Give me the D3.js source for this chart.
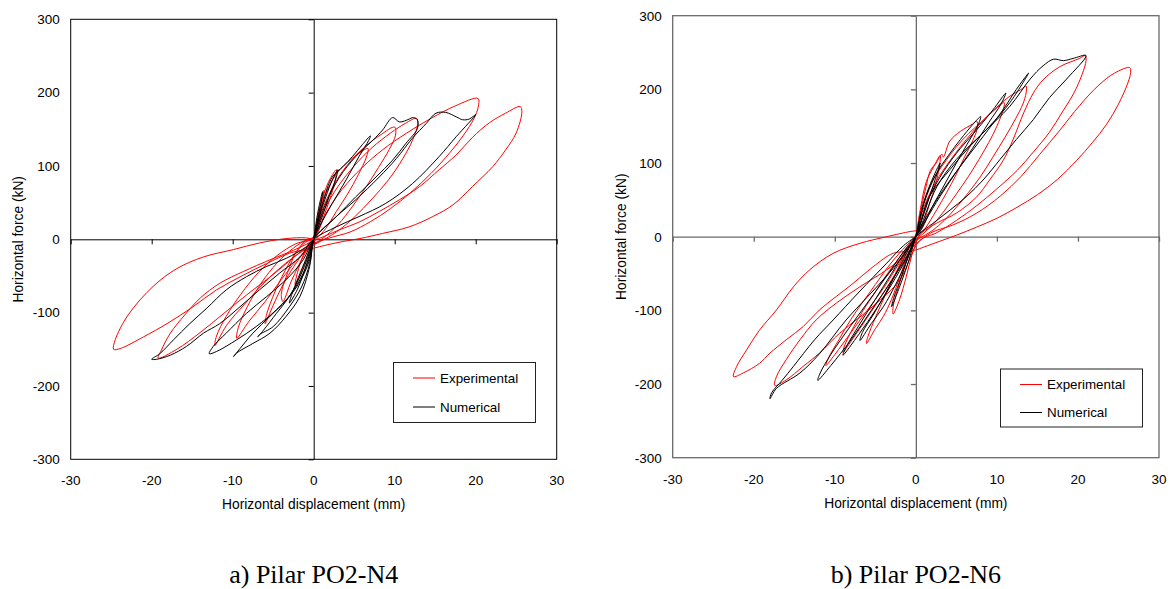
<!DOCTYPE html>
<html><head><meta charset="utf-8">
<script src="https://cdn.jsdelivr.net/npm/d3@7"></script>
<style>body{margin:0;background:#fff}svg{display:block}text{font-family:"Liberation Sans",Arial,sans-serif;fill:#000}</style>
</head><body><svg id="c" width="1172" height="589"></svg>
<script>
const xTicks=[-30,-20,-10,0,10,20,30];
const yTicks=[-300,-200,-100,0,100,200,300];
const seriesNames=["Experimental","Numerical"];
const seriesColors=["#ff0000","#000000"];
const xTitle="Horizontal displacement (mm)";
const yTitle="Horizontal force (kN)";
const captions=["a) Pilar PO2-N4","b) Pilar PO2-N6"];

// [displacement mm, force kN]
const n4Experimental=[
[0,0],[0.4,25],[0.9,50],[1.3,67],[1.1,50],[0.6,25],[0.1,3],[-0.5,-15],[-1.2,-35],[-1.8,-52],[-2.3,-62],[-2.0,-45],[-1.3,-22],[-0.6,-5],[0,2],
[0.5,28],[1.2,60],[2.0,82],[2.8,95],[2.6,78],[2.0,55],[1.2,30],[0.4,8],[-0.5,-8],[-1.6,-30],[-2.8,-58],[-3.8,-85],[-4.0,-75],[-3.2,-45],[-2.2,-18],[-1.0,-2],[0,3],
[0.8,40],[1.8,70],[3.0,92],[4.5,108],[5.8,119],[6.7,124],[6.5,112],[5.5,88],[4.2,62],[2.8,38],[1.5,15],[0.3,0],[-1.0,-15],[-2.5,-38],[-3.8,-62],[-5.0,-90],[-6.0,-115],[-5.8,-102],[-4.8,-72],[-3.5,-42],[-2.2,-18],[-1.0,-4],[0,2],
[1,38],[2.2,68],[3.5,92],[5,112],[6.5,128],[8.2,142],[10,153],[10.1,142],[9.3,122],[8,98],[6.5,72],[4.8,45],[3,20],[1.2,2],[-0.5,-12],[-2.2,-30],[-4,-55],[-6,-85],[-8,-112],[-9.5,-135],[-9.3,-120],[-8.2,-92],[-6.5,-60],[-4.5,-32],[-2.5,-12],[-0.8,0],[0,3],
[1.2,38],[3,72],[5,100],[7.2,125],[9.5,145],[11.3,158],[12.7,165],[12.8,155],[12.2,135],[11,110],[9.3,82],[7.2,55],[5,30],[2.8,10],[0.8,-3],[-1.2,-15],[-3.5,-33],[-6,-58],[-8.5,-88],[-10.8,-118],[-12.2,-145],[-12,-132],[-10.8,-105],[-9,-75],[-6.8,-45],[-4.5,-22],[-2.2,-6],[0,2],
[1.5,35],[3.5,68],[6,98],[8.5,122],[11.5,145],[14.5,165],[17.5,182],[20.3,192],[20.3,180],[19.8,165],[18.5,142],[16.8,118],[14.5,90],[12,64],[9.5,42],[7,24],[4.5,10],[2,2],[-0.5,-8],[-2.5,-25],[-5,-48],[-8.3,-76],[-11.2,-102],[-14,-127],[-16.9,-150],[-19.2,-162],[-18.8,-151],[-17.7,-128],[-15.9,-103],[-14,-80],[-11.6,-60],[-8.7,-44],[-5.4,-28],[-2.5,-15],[0,-2],
[1.5,5],[3.2,13],[5.7,24],[8.1,38],[10.6,54],[13.1,72],[15.5,95],[17.6,115],[19.6,139],[21.7,159],[23.7,172],[25.5,181],[25.7,174],[25,145],[23.7,122],[22.1,99],[19.6,72],[17.2,47],[14.7,31],[11.8,17],[8.5,8],[5.7,1],[3.6,-3],[1.5,-8],[0,-12],[-1,-14],[-3,-19],[-5.8,-33],[-8.7,-49],[-12,-69],[-14.9,-92],[-18.1,-115],[-21,-133],[-23.9,-149],[-24.7,-150],[-24.5,-137],[-22.9,-103],[-19.8,-64],[-16.9,-40],[-13.6,-24],[-9.9,-14],[-6.7,-5],[-3.4,1],[-1,2],[0,0]
];
const n4Numerical=[
[0,0],[0.4,30],[0.8,52],[1.1,65],[0.9,50],[0.5,28],[0.1,5],[-0.5,-20],[-1.2,-45],[-2.0,-68],[-3.0,-87],[-2.7,-75],[-1.9,-52],[-1.0,-28],[-0.3,-8],[0,0],
[0.7,31],[1.5,58],[2.3,81],[3,95],[2.8,85],[1.9,58],[0.9,26],[0,0],[-0.5,-33],[-1.5,-65],[-3,-92],[-5,-119],[-6.7,-130],[-6.9,-133],[-6.2,-124],[-4.6,-101],[-3,-78],[-1.7,-51],[-0.7,-24],[0,0],
[1.1,49],[2.3,85],[3.6,99],[4.8,113],[6,129],[7,141],[6.8,135],[5.6,113],[4,81],[2.3,49],[0.7,17],[0,0],[-0.5,-37],[-1.7,-78],[-3.4,-105],[-5.4,-128],[-7.5,-142],[-9.5,-155],[-9.9,-160],[-9.1,-149],[-7.5,-128],[-5.4,-105],[-3.4,-83],[-1.7,-55],[-0.5,-24],[0,0],
[1.5,49],[3.2,85],[5.2,113],[7.3,135],[8.5,149],[9.75,166],[10.6,160],[11.8,164],[12.2,166],[12.8,163],[12.8,151],[11.4,131],[9.75,108],[7.7,85],[5.2,58],[2.8,31],[0,0],[-0.5,-28],[-2.1,-65],[-4.6,-96],[-7.1,-119],[-9.5,-137],[-12,-153],[-12.9,-156],[-12.4,-146],[-10.8,-128],[-8.3,-101],[-5.8,-78],[-3.4,-55],[-1.3,-28],[0,0],
[2.8,31],[5.2,54],[8.1,85],[10.2,110],[12.2,138],[13.9,158],[15.1,172],[16.3,173],[17.6,167],[18.4,163],[19.2,164],[20,170],[17.6,140],[15.5,113],[12.2,76],[8.9,49],[5.6,31],[2.8,17],[0,0],[-1.7,-24],[-4.2,-46],[-6.7,-69],[-9.1,-92],[-11.6,-115],[-13.6,-128],[-15.7,-146],[-17.7,-158],[-19.4,-163.6],[-20,-163.6],[-19,-156],[-17.3,-137],[-15.3,-115],[-13.2,-94],[-10.8,-69],[-8.3,-51],[-5.8,-37],[-3.4,-26],[-0.9,-10],[0,0]
];
const n6Experimental=[
[0,0],[0.6,40],[1.3,75],[2.2,95],[3,110],[2.9,95],[2.4,70],[1.7,45],[1,20],[0.3,0],[-0.5,-25],[-1.2,-55],[-2,-85],[-2.8,-105],[-2.8,-95],[-2.2,-70],[-1.5,-45],[-0.8,-20],[0,0],
[0.5,30],[1.2,65],[1.8,90],[2.5,100],[3.2,112],[3.4,108],[4.2,130],[5.5,143],[7,153],[7.5,157],[7.6,148],[7,130],[6,108],[5,85],[3.8,60],[2.5,35],[1.2,12],[0,-5],[-1,-25],[-2,-55],[-3,-85],[-4,-108],[-5,-125],[-6.1,-145],[-5.9,-135],[-5,-110],[-3.8,-80],[-2.5,-50],[-1.2,-20],[0,0],
[0.8,40],[2,75],[3.5,100],[5,122],[6.5,140],[8,155],[9.5,170],[10.9,182],[10.7,170],[10,150],[9,128],[7.8,105],[6.5,82],[5,58],[3.5,35],[2,15],[0.5,0],[-0.8,-20],[-2.5,-50],[-4.5,-85],[-6.5,-118],[-8,-142],[-9,-157],[-8.8,-148],[-7.8,-125],[-6.5,-100],[-5,-75],[-3.5,-50],[-2,-28],[-0.5,-5],[0,3],
[1,40],[2.5,75],[4,100],[5.5,122],[7,142],[8.5,160],[10,176],[11.5,190],[13,200],[13.6,204.5],[13.6,195],[13.2,180],[12.3,160],[11,135],[9.5,108],[8,82],[6.5,60],[5,40],[3.5,22],[2,8],[0.5,-2],[-0.5,-10],[-2,-35],[-4,-70],[-6,-100],[-8,-130],[-10,-160],[-11.1,-175],[-10.8,-165],[-9.5,-140],[-8,-112],[-6.5,-88],[-5,-65],[-3.5,-42],[-2,-22],[-0.5,-5],[0,0],
[2.5,18],[5,32],[7.5,54],[9.1,77],[10.8,104],[12,132],[13.3,168],[14.5,195],[15.7,213],[17.8,231],[20.2,242],[20.9,246],[21,239],[20.5,220],[19.5,195],[18,168],[16.5,142],[14.5,115],[12.5,90],[10,65],[7.5,42],[5,22],[2.5,5],[0.5,-5],[-2,-59],[-4.4,-86],[-6.9,-109],[-9.4,-131],[-11.9,-158],[-13.9,-176],[-16,-194.5],[-17.4,-202],[-17.2,-190],[-16,-167],[-14.3,-140],[-12.3,-113],[-9.8,-90],[-6.9,-68],[-3.6,-45],[-1.1,-23],[0,-10],
[2,6],[4.6,16],[7.5,32],[10.4,55],[13,82],[15.3,112],[17.8,145],[20.2,178],[22.5,205],[24.5,222],[26.4,229.5],[26.5,223],[26.2,210],[25,180],[23.5,152],[21.8,128],[19.8,103],[17.5,78],[15,57],[12.5,40],[10,25],[7.5,13],[5,2],[3,-6],[1,-14],[0,-18],[-1,-20],[-2.8,-22.5],[-5.3,-41],[-7.7,-63],[-9.8,-81],[-11.9,-99.5],[-13.9,-122],[-16,-140],[-18,-158],[-19.3,-172],[-21.3,-185],[-22.5,-190],[-22.1,-176],[-20.9,-154],[-19.3,-127],[-17.2,-99.5],[-15.1,-68],[-13.1,-45],[-10.2,-22.6],[-6.9,-9],[-3.6,0],[-0.7,7],[0,8]
];
const n6Numerical=[
[0,0],[0.8,40],[1.8,72],[3,100],[2.6,85],[1.8,58],[0.9,28],[0,0],[-0.8,-30],[-1.8,-62],[-3,-95],[-2.7,-82],[-1.8,-55],[-0.8,-22],[0,0],
[1,45],[2.5,85],[4,110],[5.5,132],[7,152],[8,163],[7.6,150],[6.3,125],[5,100],[3.5,70],[2,40],[0.8,12],[0,0],[-1,-30],[-2.5,-65],[-4,-95],[-5.5,-118],[-6.9,-141],[-6.6,-130],[-5.2,-105],[-3.8,-78],[-2.2,-45],[-0.8,-15],[0,0],
[1.5,50],[3.5,90],[5.5,120],[7.5,145],[9.5,172],[11.1,195],[10.5,180],[9,155],[7,120],[5,88],[3,55],[1.2,22],[0,0],[-1.2,-30],[-3,-65],[-5,-100],[-7,-132],[-9,-161],[-8.6,-150],[-7,-120],[-5,-85],[-3,-50],[-1.2,-18],[0,0],
[1.7,55],[4.2,91],[6.7,123],[9.1,150],[11.6,182],[13.9,222],[12.4,200],[10.8,173],[8.3,136],[5.8,100],[3.4,64],[1.3,27],[0,0],[-1,-25],[-3,-60],[-5.5,-100],[-8,-140],[-10.5,-175],[-12.1,-195],[-11.8,-185],[-10.5,-160],[-8.5,-128],[-6,-90],[-3.5,-52],[-1.5,-20],[0,0],
[2.6,68],[5,105],[8.3,141],[11.6,177],[14.1,214],[15.7,232],[17,241],[18.2,239],[19.4,242],[21,246],[18.6,214],[16.5,189],[14.5,159],[12.4,132],[10.4,105],[8.3,77],[6.3,55],[4.2,36],[2.1,18],[0,0],[-1.5,-25],[-3.5,-52],[-6,-82],[-8.6,-113],[-11.9,-159],[-14.3,-185],[-17.2,-206],[-18,-220],[-17.8,-212],[-16.5,-195],[-15.1,-176],[-12.5,-140],[-10.2,-113],[-7,-75],[-3.6,-36],[-1.5,-12],[0,0]
];

const panels=[
 {x0:70.7,x1:556.7,y0:19.3,y1:459.3,frame:"#000",fw:1,series:[n4Experimental,n4Numerical],caption:captions[0],
  xLabY:485,xTitY:509,yTitX:23.4,leg:{x:393.5,y:362.5,w:142,h:60,r1:378,r2:407,l1:413,l2:435,tx:440}},
 {x0:672.7,x1:1159,y0:15.7,y1:457.7,frame:"#6a6a6a",fw:1.3,series:[n6Experimental,n6Numerical],caption:captions[1],
  xLabY:484,xTitY:508,yTitX:625.5,leg:{x:1000.5,y:369,w:142,h:58,r1:384.5,r2:412.5,l1:1020,l2:1042,tx:1047}}
];

const svg=d3.select("#c");
svg.append("rect").attr("width",1172).attr("height",589).attr("fill","#fff");

panels.forEach(p=>{
  const x=d3.scaleLinear().domain([-30,30]).range([p.x0,p.x1]);
  const y=d3.scaleLinear().domain([-300,300]).range([p.y1,p.y0]);
  const g=svg.append("g");
  g.append("rect").attr("x",p.x0).attr("y",p.y0).attr("width",p.x1-p.x0).attr("height",p.y1-p.y0)
    .attr("fill","none").attr("stroke",p.frame).attr("stroke-width",p.fw);
  const ax=g.append("g").attr("transform",`translate(0,${y(0)})`)
    .call(d3.axisBottom(x).tickValues(xTicks).tickSize(5).tickSizeOuter(0).tickFormat(""));
  const ay=g.append("g").attr("transform",`translate(${x(0)},0)`)
    .call(d3.axisLeft(y).tickValues(yTicks).tickSize(5).tickSizeOuter(0).tickFormat(""));
  [ax,ay].forEach(a=>{a.selectAll("path,line").attr("stroke",p.frame).attr("stroke-width",p.fw);});

  // tick labels
  g.selectAll(".xl").data(xTicks).join("text").attr("x",d=>x(d)).attr("y",p.xLabY)
    .attr("text-anchor","middle").style("font-size","13.5px").text(d=>d);
  g.selectAll(".yl").data(yTicks).join("text").attr("x",p.x0-11).attr("y",d=>y(d)+4.8)
    .attr("text-anchor","end").style("font-size","13.5px").text(d=>d);
  // titles
  g.append("text").attr("x",x(0)).attr("y",p.xTitY).attr("text-anchor","middle").style("font-size","13.8px").text(xTitle);
  g.append("text").attr("transform",`translate(${p.yTitX},${y(0)}) rotate(-90)`).attr("text-anchor","middle").style("font-size","13.8px").text(yTitle);
  // caption
  g.append("text").attr("x",x(0)).attr("y",583).attr("text-anchor","middle")
    .style("font-family","'Liberation Serif','Times New Roman',serif").style("font-size","26px").text(p.caption);

  // data
  const line=d3.line().x(d=>x(d[0])).y(d=>y(d[1])).curve(d3.curveCatmullRom.alpha(0.5));
  p.series.forEach((s,i)=>{
    g.append("path").datum(s).attr("d",line).attr("fill","none").attr("stroke",seriesColors[i]).attr("stroke-width",1).attr("stroke-linejoin","round");
  });

  // legend
  const L=p.leg;
  g.append("rect").attr("x",L.x).attr("y",L.y).attr("width",L.w).attr("height",L.h).attr("fill","#fff").attr("stroke","#222").attr("stroke-width",1);
  [L.r1,L.r2].forEach((ry,i)=>{
    g.append("line").attr("x1",L.l1).attr("x2",L.l2).attr("y1",ry).attr("y2",ry).attr("stroke",seriesColors[i]).attr("stroke-width",1);
    g.append("text").attr("x",L.tx).attr("y",ry+4.8).style("font-size","13.4px").text(seriesNames[i]);
  });
});
</script></body></html>
